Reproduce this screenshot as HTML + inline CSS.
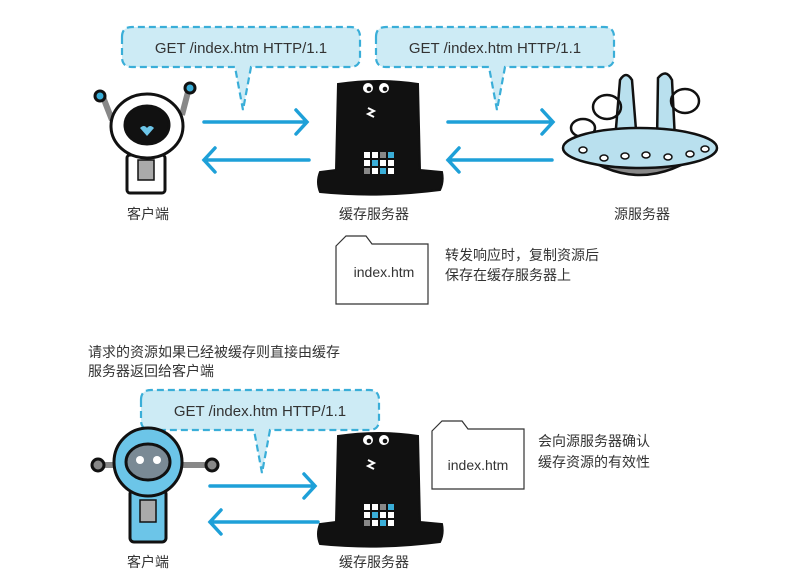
<!DOCTYPE html>
<html><head><meta charset="utf-8"><style>
body{margin:0;background:#fff}
svg{display:block}
text{font-family:"Liberation Sans","Noto Sans CJK SC",sans-serif;fill:#333}
</style></head><body>
<svg width="792" height="581" viewBox="0 0 792 581">
<defs>
<g id="bubble">
<path d="M0,10 Q0,0 10,0 H228 Q238,0 238,10 V30 Q238,40 228,40 H129 L121,83 L113,40 H10 Q0,40 0,30 Z" fill="#cdebf5" stroke="#3aaed8" stroke-width="2.2" stroke-dasharray="7,4"/>
</g>
<g id="hat">
<path d="M20,2 Q60,-4 100,2 L102,88 L124,90 Q126,100 122,108 Q60,116 2,110 Q-2,100 2,90 L18,88 Z" fill="#111" stroke="#111" stroke-width="2"/>
<circle cx="50" cy="6" r="6" fill="#fff" stroke="#111" stroke-width="2"/><circle cx="66" cy="6" r="6" fill="#fff" stroke="#111" stroke-width="2"/>
<circle cx="51" cy="7" r="2.3" fill="#111"/><circle cx="67" cy="7" r="2.3" fill="#111"/>
<path d="M50,26 L56,29 L50,32 L56,35" stroke="#fff" stroke-width="2" fill="none"/>
<g>
<rect x="46" y="70" width="6" height="6" fill="#fff"/><rect x="54" y="70" width="6" height="6" fill="#fff"/><rect x="62" y="70" width="6" height="6" fill="#888"/><rect x="70" y="70" width="6" height="6" fill="#3aaed8"/>
<rect x="46" y="78" width="6" height="6" fill="#fff"/><rect x="54" y="78" width="6" height="6" fill="#3aaed8"/><rect x="62" y="78" width="6" height="6" fill="#fff"/><rect x="70" y="78" width="6" height="6" fill="#fff"/>
<rect x="46" y="86" width="6" height="6" fill="#888"/><rect x="54" y="86" width="6" height="6" fill="#fff"/><rect x="62" y="86" width="6" height="6" fill="#3aaed8"/><rect x="70" y="86" width="6" height="6" fill="#fff"/>
</g>
</g>
<g id="doc">
<path d="M0,10 L10,0 H30 L36,8 H92 V68 H0 Z" fill="#fff" stroke="#333" stroke-width="1.2"/>
</g>
</defs>

<use href="#bubble" x="122" y="27"/>
<text x="241" y="53" font-size="15" text-anchor="middle">GET /index.htm HTTP/1.1</text>
<use href="#bubble" x="376" y="27"/>
<text x="495" y="53" font-size="15" text-anchor="middle">GET /index.htm HTTP/1.1</text>
<use href="#bubble" x="141" y="390"/>
<text x="260" y="416" font-size="15" text-anchor="middle">GET /index.htm HTTP/1.1</text>

<!-- arrows -->
<g stroke="#1ea0d8" stroke-width="3.5" fill="none" stroke-linecap="round">
<path d="M204,122 H306 M296,110 L307,122 L296,134"/>
<path d="M204,160 H309 M215,148 L204,160 L215,172"/>
<path d="M448,122 H552 M542,110 L553,122 L542,134"/>
<path d="M448,160 H552 M459,148 L448,160 L459,172"/>
<path d="M210,486 H314 M304,474 L315,486 L304,498"/>
<path d="M210,522 H318 M221,510 L210,522 L221,534"/>
</g>

<!-- client 1 -->
<g stroke="#111" stroke-width="3" fill="#fff">
<path d="M103,97 L112,120 M189,88 L182,115" stroke-width="6" stroke="#888"/>
<circle cx="100" cy="96" r="5" fill="#3aaed8"/><circle cx="190" cy="88" r="5" fill="#3aaed8"/>
<rect x="127" y="155" width="38" height="38" rx="3"/>
<rect x="138" y="160" width="16" height="20" fill="#aaa" stroke-width="1.5"/>
<ellipse cx="147" cy="126" rx="36" ry="32"/>
<ellipse cx="147" cy="125" rx="22" ry="19" fill="#111"/>
</g>
<path d="M140,128 q4,-4 7,0 q3,-4 7,0 l-7,8 z" fill="#6cc5e8"/>
<text x="148" y="219" font-size="14" text-anchor="middle">客户端</text>

<use href="#hat" x="318" y="82"/>
<text x="374" y="219" font-size="14" text-anchor="middle">缓存服务器</text>

<!-- UFO -->
<g stroke="#111" stroke-width="2.5" fill="#b9e0ee">
<path d="M615,140 L620,80 Q626,70 632,80 L636,130 Z"/>
<path d="M657,140 L658,78 Q666,68 672,80 L675,140 Z"/>
<ellipse cx="685" cy="101" rx="14" ry="12" fill="none"/>
<ellipse cx="607" cy="107" rx="14" ry="12" fill="none"/>
<ellipse cx="583" cy="128" rx="12" ry="9" fill="#fff"/>
<path d="M575,150 Q640,200 705,150" fill="#888"/>
<ellipse cx="640" cy="148" rx="77" ry="20"/>
</g>
<g fill="#fff" stroke="#111" stroke-width="1.5">
<ellipse cx="583" cy="150" rx="4" ry="3"/><ellipse cx="604" cy="158" rx="4" ry="3"/><ellipse cx="625" cy="156" rx="4" ry="3"/><ellipse cx="646" cy="155" rx="4" ry="3"/><ellipse cx="668" cy="157" rx="4" ry="3"/><ellipse cx="690" cy="154" rx="4" ry="3"/><ellipse cx="705" cy="149" rx="4" ry="3"/>
</g>
<text x="642" y="219" font-size="14" text-anchor="middle">源服务器</text>

<use href="#doc" x="336" y="236"/>
<text x="384" y="277" font-size="14" text-anchor="middle">index.htm</text>
<text x="445" y="260" font-size="14">转发响应时，复制资源后</text>
<text x="445" y="280" font-size="14">保存在缓存服务器上</text>

<text x="88" y="357" font-size="14">请求的资源如果已经被缓存则直接由缓存</text>
<text x="88" y="376" font-size="14">服务器返回给客户端</text>

<!-- client 2 -->
<g stroke="#111" stroke-width="3">
<path d="M100,465 H125 M170,465 H210" stroke="#888" stroke-width="6"/>
<circle cx="98" cy="465" r="6" fill="#888"/><circle cx="212" cy="465" r="6" fill="#888"/>
<rect x="130" y="490" width="36" height="52" rx="4" fill="#6cc5e8"/>
<rect x="140" y="500" width="16" height="22" fill="#aaa" stroke-width="1.5"/>
<circle cx="148" cy="462" r="34" fill="#6cc5e8"/>
<ellipse cx="148" cy="462" rx="22" ry="18" fill="#7a8a95"/>
</g>
<circle cx="140" cy="460" r="4" fill="#fff"/><circle cx="157" cy="460" r="4" fill="#fff"/>
<text x="148" y="567" font-size="14" text-anchor="middle">客户端</text>

<use href="#hat" x="318" y="434"/>
<text x="374" y="567" font-size="14" text-anchor="middle">缓存服务器</text>

<use href="#doc" x="432" y="421"/>
<text x="478" y="470" font-size="14" text-anchor="middle">index.htm</text>
<text x="538" y="446" font-size="14">会向源服务器确认</text>
<text x="538" y="467" font-size="14">缓存资源的有效性</text>
</svg>
</body></html>
